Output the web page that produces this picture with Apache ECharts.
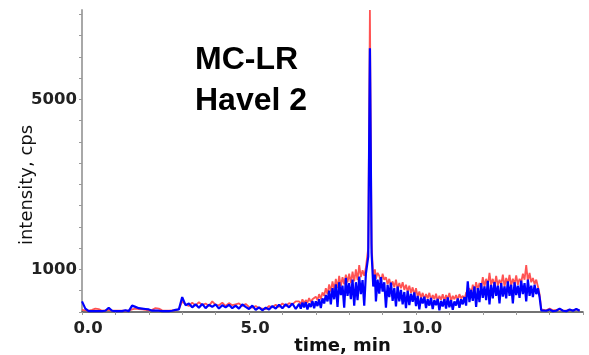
<!DOCTYPE html>
<html>
<head>
<meta charset="utf-8">
<script src="https://cdn.jsdelivr.net/npm/echarts@6/dist/echarts.min.js"></script>
<style>
  html, body { margin: 0; padding: 0; background: #fff; }
  #chart { width: 589px; height: 355px; }
</style>
</head>
<body>
<div id="chart"></div>
<script>
// retention time, min
const times = [
  0.0, 0.1, 0.2, 0.3, 0.4, 0.5, 0.6, 0.7, 0.8, 0.9,
  1.0, 1.1, 1.2, 1.3, 1.4, 1.5, 1.6, 1.7, 1.8, 1.9,
  2.0, 2.1, 2.2, 2.3, 2.4, 2.5, 2.6, 2.7, 2.8, 2.9,
  3.0, 3.1, 3.2, 3.3, 3.4, 3.5, 3.6, 3.7, 3.8, 3.9,
  4.0, 4.1, 4.2, 4.3, 4.4, 4.5, 4.6, 4.7, 4.8, 4.9,
  5.0, 5.1, 5.2, 5.3, 5.4, 5.5, 5.6, 5.7, 5.8, 5.9,
  6.0, 6.1, 6.2, 6.3, 6.4,
  6.5, 6.55, 6.6, 6.65, 6.7, 6.75, 6.8, 6.85, 6.9, 6.95,
  7.0, 7.05, 7.1, 7.15, 7.2, 7.25, 7.3, 7.35, 7.4, 7.45,
  7.5, 7.55, 7.6, 7.65, 7.7, 7.75, 7.8, 7.85, 7.9, 7.95,
  8.0, 8.05, 8.1, 8.15, 8.2, 8.25, 8.3, 8.35, 8.4, 8.45,
  8.5, 8.57, 8.62, 8.67, 8.72, 8.77, 8.8, 8.85, 8.9, 8.95,
  9.0, 9.05, 9.1, 9.15, 9.2, 9.25, 9.3, 9.35, 9.4, 9.45,
  9.5, 9.55, 9.6, 9.65, 9.7, 9.75, 9.8, 9.85, 9.9, 9.95,
  10.0, 10.05, 10.1, 10.15, 10.2, 10.25, 10.3, 10.35, 10.4, 10.45,
  10.5, 10.55, 10.6, 10.65, 10.7, 10.75, 10.8, 10.85, 10.9, 10.95,
  11.0, 11.05, 11.1, 11.15, 11.2, 11.25, 11.3, 11.35, 11.4, 11.45,
  11.5, 11.55, 11.6, 11.65, 11.7, 11.75, 11.8, 11.85, 11.9, 11.95,
  12.0, 12.05, 12.1, 12.15, 12.2, 12.25, 12.3, 12.35, 12.4, 12.45,
  12.5, 12.55, 12.6, 12.65, 12.7, 12.75, 12.8, 12.85, 12.9, 12.95,
  13.0, 13.05, 13.1, 13.15, 13.2, 13.25, 13.3, 13.35, 13.4, 13.45,
  13.5, 13.55, 13.6, 13.65, 13.7, 13.75, 13.8, 13.9,
  14.0, 14.1, 14.2, 14.3, 14.4, 14.5, 14.6, 14.7, 14.8, 14.9
];

// intensity, cps (blue trace)
const blueTrace = [
  250, 80, 20, 20, 20, 20, 20, 30, 100, 30,
  20, 20, 20, 40, 20, 150, 120, 90, 80, 70,
  60, 30, 30, 30, 20, 20, 20, 30, 50, 60,
  350, 160, 200, 110, 180, 100, 190, 90, 170, 120,
  180, 80, 160, 110, 170, 90, 150, 80, 180, 120,
  70, 150, 50, 110, 40, 100, 60, 140, 80, 170,
  90, 180, 110, 200, 70,
  190, 80, 220, 110, 230, 60, 200, 120, 260, 90,
  250, 140, 300, 90, 320, 200, 400, 250, 500, 180,
  560, 300, 650, 120, 700, 400, 620, 100, 800, 380,
  680, 300, 760, 150, 700, 280, 830, 420, 750, 150,
  900, 1300, 6200, 1400, 600, 880, 250, 760, 430, 820,
  480, 700, 100, 640, 350, 690, 260, 560, 130, 600,
  250, 520, 180, 470, 90, 500, 160, 430, 240, 460,
  140, 380, 60, 340, 200, 360, 90, 300, 150, 330,
  70, 280, 160, 310, 40, 260, 130, 300, 80, 340,
  110, 280, 50, 250, 150, 320, 100, 300, 180, 350,
  150, 720, 230, 520, 260, 600, 120, 560, 230, 680,
  330, 600, 280, 730, 180, 640, 320, 700, 380, 620,
  200, 680, 360, 600, 320, 720, 380, 640, 200, 700,
  400, 620, 330, 740, 420, 680, 250, 760, 380, 620,
  350, 640, 420, 560, 350, 40, 40, 30,
  60, 20, 30, 80, 30, 20, 60, 30, 70, 30
];

// intensity, cps (red trace)
const redTrace = [
  50, 40, 30, 50, 80, 70, 30, 40, 50, 30,
  30, 30, 30, 30, 30, 60, 80, 70, 60, 50,
  40, 50, 90, 80, 40, 30, 30, 40, 40, 70,
  250, 180, 140, 220, 150, 230, 160, 200, 140, 250,
  170, 160, 220, 140, 210, 160, 180, 200, 140, 190,
  120, 100, 140, 90, 80, 70, 140, 110, 170, 120,
  200, 140, 210, 180, 250,
  250, 180, 300, 200, 280, 220, 330, 230, 300, 260,
  360, 280, 420, 300, 460, 380, 560, 420, 650, 480,
  720, 520, 780, 560, 850, 600, 820, 650, 880, 700,
  900, 680, 950, 720, 1000, 750, 1100, 820, 980, 850,
  1050, 1500, 7100, 1600, 800, 1000, 780, 920, 850, 700,
  900, 760, 820, 650, 780, 600, 720, 580, 760, 540,
  680, 560, 700, 520, 640, 480, 620, 450, 580, 400,
  560, 360, 480, 330, 450, 300, 420, 320, 450, 280,
  400, 300, 430, 260, 380, 290, 420, 250, 400, 300,
  450, 260, 380, 300, 400, 280, 420, 320, 380, 300,
  450, 480, 560, 420, 640, 480, 700, 520, 680, 560,
  820, 600, 780, 620, 920, 640, 780, 600, 850, 620,
  760, 640, 880, 600, 800, 660, 870, 620, 780, 650,
  860, 640, 780, 700, 900, 760, 1100, 720, 920, 700,
  800, 650, 760, 600, 420, 60, 60, 40,
  80, 40, 50, 60, 40, 30, 50, 40, 60, 40
];

const yLabels = [1000, 5000];
const xLabels = [0, 5, 10];

function pairs(values) {
  return times.map((t, i) => [t, values[i]]);
}

const chart = echarts.init(document.getElementById("chart"));

const option = {
  animation: false,
  backgroundColor: "#fff",
  title: {
    text: "MC-LR\nHavel 2",
    left: 190,
    top: 35,
    textStyle: {
      fontFamily: "Liberation Sans",
      fontSize: 32,
      fontWeight: "bold",
      color: "#000",
      lineHeight: 41,
    },
  },
  grid: {
    left: 82,
    right: 6,
    top: 10,
    bottom: 43,
    containLabel: false,
    outerBoundsMode: "none",
  },
  xAxis: {
    type: "value",
    min: 0,
    max: 15,
    interval: 1,
    name: "time, min",
    nameLocation: "middle",
    nameGap: 25,
    nameMoveOverlap: false,
    nameTextStyle: {
      fontFamily: "DejaVu Sans",
      fontSize: 18,
      fontWeight: "bold",
      color: "#111",
      padding: [0, 0, 0, 20],
    },
    axisLine: { lineStyle: { color: "#444", width: 1.5 } },
    axisTick: { length: 3, lineStyle: { color: "#999" } },
    splitLine: { show: false },
    axisLabel: {
      fontFamily: "DejaVu Sans",
      fontSize: 16.5,
      fontWeight: "bold",
      color: "#222",
      margin: 8,
      padding: [0, 0, 0, 12],
      formatter: (v) => (xLabels.includes(v) ? v.toFixed(1) : ""),
    },
  },
  yAxis: {
    type: "value",
    min: 0,
    max: 7100,
    interval: 500,
    name: "intensity, cps",
    nameLocation: "middle",
    nameGap: 46,
    nameMoveOverlap: false,
    nameTextStyle: {
      fontFamily: "DejaVu Sans",
      fontSize: 18,
      color: "#111",
      padding: [0, 48, 0, 0],
    },
    axisLine: { show: true, lineStyle: { color: "#a8a8a8", width: 2 } },
    axisTick: { show: true, length: 3, lineStyle: { color: "#999" } },
    splitLine: { show: false },
    axisLabel: {
      fontFamily: "DejaVu Sans",
      fontSize: 16.5,
      fontWeight: "bold",
      color: "#222",
      margin: 5,
      showMaxLabel: false,
      formatter: (v) => (yLabels.includes(v) ? String(v) : ""),
    },
  },
  series: [
    {
      type: "line",
      name: "red",
      data: pairs(redTrace),
      showSymbol: false,
      lineStyle: { color: "#ff4040", width: 1.8, opacity: 0.9 },
    },
    {
      type: "line",
      name: "blue",
      data: pairs(blueTrace),
      showSymbol: false,
      lineStyle: { color: "#0000ff", width: 2.2 },
    },
  ],
};

chart.setOption(option);
</script>
</body>
</html>
